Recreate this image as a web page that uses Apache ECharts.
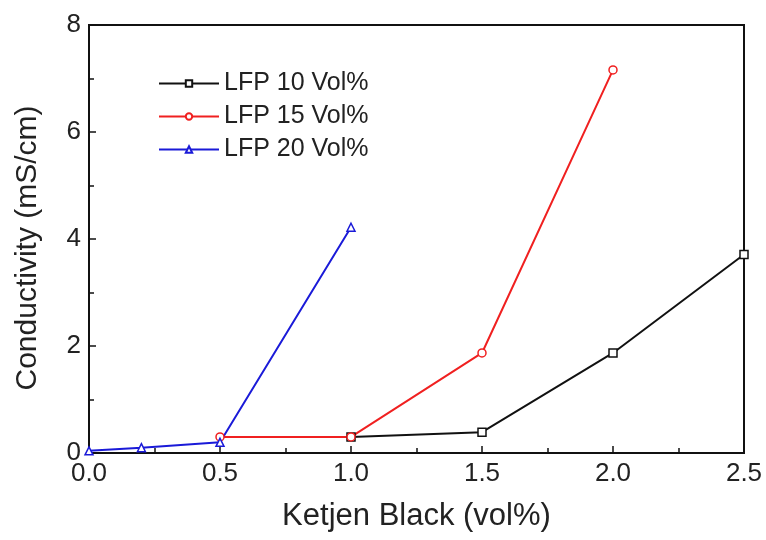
<!DOCTYPE html>
<html><head><meta charset="utf-8">
<script src="https://cdn.jsdelivr.net/npm/echarts@6/dist/echarts.min.js"></script>
<style>html,body{margin:0;padding:0;background:#fff}#c{width:766px;height:540px}</style>
</head><body><div id="c"></div>
<script>
const seriesNames = ['LFP 10 Vol%', 'LFP 15 Vol%', 'LFP 20 Vol%'];
const lfp10X = [1.0, 1.5, 2.0, 2.5];
const lfp10Y = [0.30, 0.39, 1.87, 3.71];
const lfp15X = [0.5, 1.0, 1.5, 2.0];
const lfp15Y = [0.30, 0.30, 1.87, 7.16];
const lfp20X = [0.0, 0.2, 0.5, 1.0];
const lfp20Y = [0.04, 0.10, 0.20, 4.22];
const xTitle = 'Ketjen Black (vol%)';
const yTitle = 'Conductivity (mS/cm)';

const pair = (xs, ys) => xs.map((x, i) => [x, ys[i]]);
const font = 'Liberation Sans, Arial, sans-serif';
const chart = echarts.init(document.getElementById('c'));
const mk = (name, xs, ys, color, symbol) => ({
  name, type: 'line', data: pair(xs, ys), symbol, symbolSize: 8,
  showAllSymbol: true,
  lineStyle: { color, width: 2 },
  itemStyle: { color: '#fff', borderColor: color, borderWidth: 1.5 },
  emphasis: { disabled: true }
});
chart.setOption({
  animation: false,
  grid: { left: 89, right: 22, top: 25, bottom: 87, show: true, borderColor: '#111', borderWidth: 2 },
  legend: {
    orient: 'vertical', left: 153, top: 66, itemWidth: 60, itemHeight: 8, itemGap: 8,
    textStyle: { fontFamily: font, fontSize: 25, color: '#222' },
    data: seriesNames
  },
  xAxis: {
    type: 'value', min: 0, max: 2.5, interval: 0.5,
    name: xTitle, nameLocation: 'middle', nameGap: 48,
    nameTextStyle: { fontFamily: font, fontSize: 31, color: '#222' },
    axisLine: { lineStyle: { color: '#111', width: 2 } },
    axisTick: { inside: true, length: 7, lineStyle: { color: '#111', width: 1.5 } },
    minorTick: { show: true, splitNumber: 2, length: 5, lineStyle: { color: '#111', width: 1.5 } },
    axisLabel: { fontFamily: font, fontSize: 26, color: '#222', margin: 8, formatter: v => v.toFixed(1) },
    splitLine: { show: false }
  },
  yAxis: {
    type: 'value', min: 0, max: 8, interval: 2,
    name: yTitle, nameLocation: 'middle', nameGap: 46, nameRotate: 90,
    nameTextStyle: { fontFamily: font, fontSize: 30, color: '#222', padding: [0, 18, 0, 0] },
    axisLine: { lineStyle: { color: '#111', width: 2 } },
    axisTick: { inside: true, length: 7, lineStyle: { color: '#111', width: 1.5 } },
    minorTick: { show: true, splitNumber: 2, length: 5, lineStyle: { color: '#111', width: 1.5 } },
    axisLabel: { fontFamily: font, fontSize: 26, color: '#222', margin: 8 },
    splitLine: { show: false }
  },
  series: [
    mk(seriesNames[0], lfp10X, lfp10Y, '#111', 'rect'),
    mk(seriesNames[1], lfp15X, lfp15Y, '#f02020', 'circle'),
    mk(seriesNames[2], lfp20X, lfp20Y, '#1a1ad8', 'triangle')
  ]
});
</script></body></html>
